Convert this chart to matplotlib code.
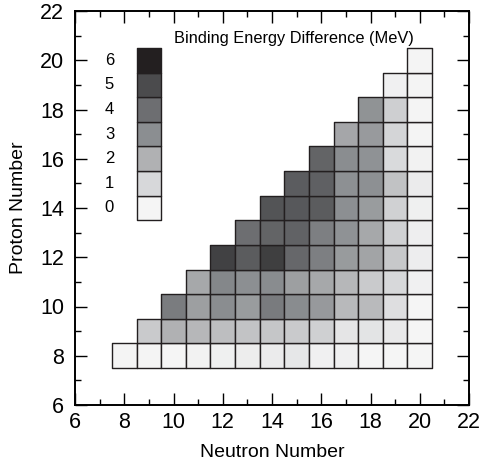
import matplotlib
matplotlib.use("Agg")
import matplotlib.pyplot as plt
import numpy as np
from matplotlib.collections import PatchCollection
from matplotlib.colors import LinearSegmentedColormap
from matplotlib.patches import Rectangle
from matplotlib.ticker import MultipleLocator

plt.rcParams["font.family"] = ["Liberation Sans", "DejaVu Sans"]

# Neutron numbers covered by the chart; row Z runs from N = Z up to N = 20.
N_MAX = 20
Z_ROWS = [8, 9, 10, 11, 12, 13, 14, 15, 16, 17, 18, 19, 20]

# Binding energy difference (MeV) per row, listed from N = Z to N = 20.
BE_DIFF = {
    8: [0.03, 0.03, 0.0, 0.10, 0.20, 0.30, 0.35, 0.50, 0.17, 0.17, 0.0, 0.0, 0.0],
    9: [1.38, 2.00, 1.87, 1.67, 1.54, 1.46, 1.38, 1.21, 0.55, 0.59, 0.41, 0.0],
    10: [3.58, 2.53, 3.03, 2.61, 3.60, 3.06, 2.69, 1.79, 1.77, 0.79, 0.0],
    11: [2.25, 3.23, 2.97, 3.06, 2.53, 2.25, 1.87, 1.38, 1.03, 0.17],
    12: [5.23, 4.53, 5.28, 4.21, 3.45, 2.64, 2.39, 1.41, 0.28],
    13: [4.00, 4.29, 4.35, 3.45, 2.89, 2.25, 1.18, 0.24],
    14: [4.76, 4.62, 4.53, 2.97, 2.61, 1.18, 0.21],
    15: [4.50, 4.40, 2.93, 2.95, 1.59, 0.34],
    16: [4.29, 3.03, 2.89, 0.93, 0.10],
    17: [2.31, 2.67, 1.10, 0.07],
    18: [2.86, 1.23, 0.07],
    19: [0.17, 0.07],
    20: [0.07],
}

# Grey scale key, 0 to 6 MeV
KEY_LEVELS = [0, 1, 2, 3, 4, 5, 6]
KEY_COLORS = ["#f5f5f5", "#d7d8da", "#b0b1b3", "#8b8e91", "#6d6e71", "#4b4c4e", "#231f20"]

cmap = LinearSegmentedColormap.from_list(
    "be_grey", [(v / KEY_LEVELS[-1], c) for v, c in zip(KEY_LEVELS, KEY_COLORS)]
)
EDGE = "#231f20"


def cell_collection(centres, values):
    boxes = [Rectangle((n - 0.5, z - 0.5), 1.0, 1.0) for n, z in centres]
    pc = PatchCollection(boxes, cmap=cmap, edgecolors=EDGE, linewidths=1.0)
    pc.set_array(np.asarray(values, dtype=float))
    pc.set_clim(0, 6)
    return pc


centres, values = [], []
for z in Z_ROWS:
    for k, v in enumerate(BE_DIFF[z]):
        centres.append((z + k, z))
        values.append(v)

fig = plt.figure(figsize=(4.82, 4.63), dpi=100)
ax = fig.add_axes([75 / 482, 58 / 463, 394 / 482, 394 / 463])

ax.add_collection(cell_collection(centres, values))

# Key: one column of boxes at N = 9, Z = 14..20
ax.add_collection(cell_collection([(9, 14 + lvl) for lvl in KEY_LEVELS], KEY_LEVELS))
for lvl in KEY_LEVELS:
    ax.text(7.4, 14 + lvl, str(lvl), ha="center", va="center", fontsize=12)
ax.text(10.0, 20.72, "Binding Energy Difference (MeV)", ha="left",
        va="baseline", fontsize=11.8)

ax.set_xlim(6, 22)
ax.set_ylim(6, 22)
ax.xaxis.set_major_locator(MultipleLocator(2))
ax.yaxis.set_major_locator(MultipleLocator(2))
ax.xaxis.set_minor_locator(MultipleLocator(1))
ax.yaxis.set_minor_locator(MultipleLocator(1))
ax.tick_params(which="both", direction="in", top=True, right=True, width=1.0,
               labelsize=15.5)
ax.tick_params(which="major", length=8.5)
ax.tick_params(which="minor", length=4.5)
ax.tick_params(axis="x", pad=5)
ax.tick_params(axis="y", pad=8)
for sp in ax.spines.values():
    sp.set_linewidth(1.4)

ax.set_xlabel("Neutron Number", fontsize=14, labelpad=8)
ax.set_ylabel("Proton Number", fontsize=14, labelpad=9)

fig.savefig("out.png", dpi=100)
